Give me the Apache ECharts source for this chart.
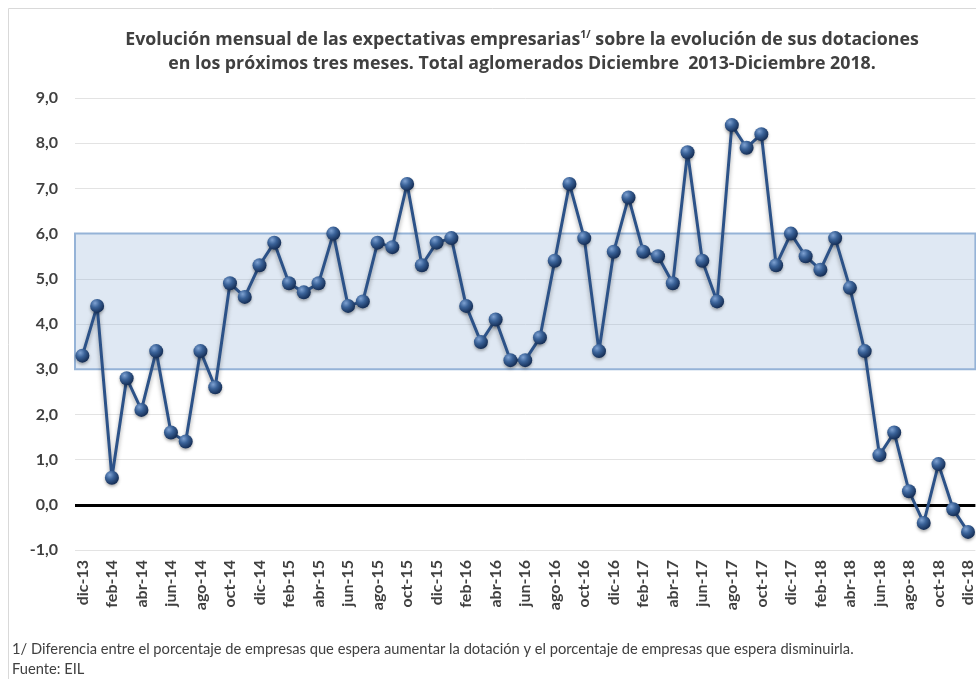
<!DOCTYPE html>
<html>
<head>
<meta charset="utf-8">
<script src="https://cdn.jsdelivr.net/npm/echarts@6/dist/echarts.min.js"></script>
<style>
  html, body { margin: 0; padding: 0; background: #fff; }
  #chart { width: 976px; height: 679px; }
</style>
</head>
<body>
<div id="chart"></div>
<script>
let months = [
    'dic-13',
    'ene-14', 'feb-14', 'mar-14', 'abr-14', 'may-14', 'jun-14', 'jul-14', 'ago-14', 'sep-14', 'oct-14', 'nov-14', 'dic-14',
    'ene-15', 'feb-15', 'mar-15', 'abr-15', 'may-15', 'jun-15', 'jul-15', 'ago-15', 'sep-15', 'oct-15', 'nov-15', 'dic-15',
    'ene-16', 'feb-16', 'mar-16', 'abr-16', 'may-16', 'jun-16', 'jul-16', 'ago-16', 'sep-16', 'oct-16', 'nov-16', 'dic-16',
    'ene-17', 'feb-17', 'mar-17', 'abr-17', 'may-17', 'jun-17', 'jul-17', 'ago-17', 'sep-17', 'oct-17', 'nov-17', 'dic-17',
    'ene-18', 'feb-18', 'mar-18', 'abr-18', 'may-18', 'jun-18', 'jul-18', 'ago-18', 'sep-18', 'oct-18', 'nov-18', 'dic-18'
];

let expectativas = [
    3.3,
    4.4, 0.6, 2.8, 2.1, 3.4, 1.6, 1.4, 3.4, 2.6, 4.9, 4.6, 5.3,
    5.8, 4.9, 4.7, 4.9, 6.0, 4.4, 4.5, 5.8, 5.7, 7.1, 5.3, 5.8,
    5.9, 4.4, 3.6, 4.1, 3.2, 3.2, 3.7, 5.4, 7.1, 5.9, 3.4, 5.6,
    6.8, 5.6, 5.5, 4.9, 7.8, 5.4, 4.5, 8.4, 7.9, 8.2, 5.3, 6.0,
    5.5, 5.2, 5.9, 4.8, 3.4, 1.1, 1.6, 0.3, -0.4, 0.9, -0.1, -0.6
];

// banda de referencia (3 a 6)
let bandaDesde = 3;
let bandaHasta = 6;

let notaPie = '1/ Diferencia entre el porcentaje de empresas que espera aumentar la dotación y el porcentaje de empresas que espera disminuirla.';
let fuente = 'Fuente: EIL';

let chart = echarts.init(document.getElementById('chart'));

let fontFam = 'Lato, "Open Sans", sans-serif';
let titleFam = '"Open Sans", Lato, sans-serif';
let textGray = '#404040';

let option = {
    animation: false,
    textStyle: { fontFamily: fontFam },
    title: {
        left: 517,
        top: 23,
        textAlign: 'center',
        text: '{a|Evolución mensual de las expectativas empresarias}{s|1/}{a| sobre la evolución de sus dotaciones}\n' +
              '{a|en los próximos tres meses. Total aglomerados Diciembre  2013-Diciembre 2018.}',
        textStyle: {
            rich: {
                a: { fontFamily: titleFam, fontSize: 17.8, fontWeight: 'bold', color: textGray, lineHeight: 24 },
                s: { fontFamily: titleFam, fontSize: 10.5, fontWeight: 'bold', color: textGray, lineHeight: 24, verticalAlign: 'top', padding: [2, 0, 0, 0] }
            }
        }
    },
    graphic: [
        {
            type: 'rect',
            silent: true,
            shape: { x: 8.5, y: 8.5, width: 990, height: 700 },
            style: { fill: 'none', stroke: '#d9d9d9', lineWidth: 1 }
        },
        {
            type: 'text',
            left: 12,
            top: 642,
            style: { text: notaPie, font: '14.7px ' + fontFam, fill: textGray }
        },
        {
            type: 'text',
            left: 12,
            top: 662,
            style: { text: fuente, font: '14.7px ' + fontFam, fill: textGray }
        }
    ],
    grid: {
        left: 75,
        right: 0,
        top: 98,
        bottom: 129
    },
    xAxis: {
        type: 'category',
        data: months,
        boundaryGap: true,
        axisLine: { show: false },
        axisTick: { show: false },
        axisLabel: {
            interval: 1,
            rotate: 90,
            margin: 10,
            fontSize: 16,
            fontWeight: 'bold',
            color: textGray
        }
    },
    yAxis: {
        type: 'value',
        min: -1,
        max: 9,
        interval: 1,
        axisLine: { show: false },
        axisTick: { show: false },
        splitLine: { lineStyle: { color: '#e3e3e3', width: 1 } },
        axisLabel: {
            margin: 17,
            fontSize: 16,
            fontWeight: 'bold',
            color: textGray,
            formatter: function (v) { return v.toFixed(1).replace('.', ','); }
        }
    },
    series: [
        {
            name: 'Expectativas',
            type: 'line',
            data: expectativas,
            symbol: 'circle',
            symbolSize: 14,
            showAllSymbol: true,
            lineStyle: {
                color: '#2c5288',
                width: 3,
                shadowColor: 'rgba(0,0,0,0.35)',
                shadowBlur: 4,
                shadowOffsetY: 3
            },
            itemStyle: {
                color: {
                    type: 'radial', x: 0.35, y: 0.3, r: 0.7,
                    colorStops: [
                        { offset: 0, color: '#7fa2d2' },
                        { offset: 0.45, color: '#3a6298' },
                        { offset: 1, color: '#162f57' }
                    ]
                },
                borderWidth: 0,
                shadowColor: 'rgba(0,0,0,0.3)',
                shadowBlur: 3,
                shadowOffsetY: 2
            },
            emphasis: { disabled: true },
            z: 5,
            markArea: {
                silent: true,
                itemStyle: {
                    color: 'rgba(149,179,215,0.3)',
                    borderColor: '#95b3d7',
                    borderWidth: 2
                },
                data: [[{ yAxis: bandaDesde }, { yAxis: bandaHasta }]]
            },
            markLine: {
                silent: true,
                symbol: 'none',
                label: { show: false },
                lineStyle: { color: '#000', width: 3, type: 'solid' },
                data: [{ yAxis: 0 }]
            }
        }
    ]
};

chart.setOption(option);
</script>
</body>
</html>
